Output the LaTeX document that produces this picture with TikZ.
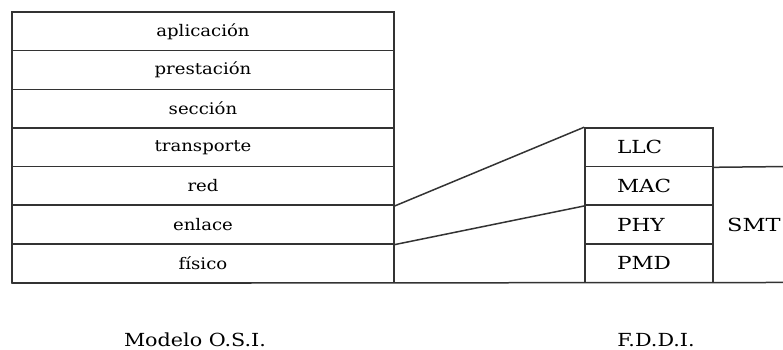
\documentclass[tikz,border=0pt]{standalone}
\usepackage{fontspec}
\usepackage{graphicx}
\setmainfont{DejaVu Serif}
\newcommand\widetxt[2]{\scalebox{#1}[1]{#2}}
\begin{document}
\begin{tikzpicture}[x=1pt,y=-1pt,
  ln/.style={line width=1.5pt,draw=black!80},
  row/.style={ln,rectangle,minimum width=382pt,minimum height=38.64pt,inner sep=0pt,
    font=\fontsize{16}{18}\selectfont},
  fbox/.style={ln,rectangle,minimum width=128pt,minimum height=38.64pt,inner ysep=0pt,
    inner xsep=32pt,text width=64pt,align=left,font=\fontsize{18}{20}\selectfont},
  caption/.style={inner sep=0pt,font=\fontsize{18}{20}\selectfont}]
\useasboundingbox (0,0) rectangle (783,350);
\node[row] (r1) at (203,31.32) {\widetxt{1.13}{aplicación}};
\node[row] (r2) at (203,69.96) {\widetxt{1.13}{prestación}};
\node[row] (r3) at (203,108.6) {\widetxt{1.13}{sección}};
\node[row] (r4) at (203,147.24) {\widetxt{1.13}{transporte}};
\node[row] (r5) at (203,185.88) {\widetxt{1.13}{red}};
\node[row] (r6) at (203,224.52) {\widetxt{1.13}{enlace}};
\node[row] (r7) at (203,263.16) {\widetxt{1.13}{físico}};
\node[fbox] (f1) at (649,147.24) {\widetxt{1.2}{LLC}};
\node[fbox] (f2) at (649,185.88) {\widetxt{1.2}{MAC}};
\node[fbox] (f3) at (649,224.52) {\widetxt{1.2}{PHY}};
\node[fbox] (f4) at (649,263.16) {\widetxt{1.2}{PMD}};
\node[caption,anchor=west] (smt) at (727,224.5) {\widetxt{1.25}{SMT}};
\coordinate (smtend) at (783,166.56);
\coordinate (bend) at (783,282.48);
\draw[ln] (f1.south east) -- (smtend);
\draw[ln] (r7.south west) -- (bend);
\draw[ln] (r5.south east) -- (f1.north west);
\draw[ln] (r6.south east) -- (f2.south west);
\node[caption] (osi) at (195,340) {\widetxt{1.15}{Modelo O.S.I.}};
\node[caption] (fddi) at (656,340) {\widetxt{1.15}{F.D.D.I.}};
\end{tikzpicture}
\end{document}
